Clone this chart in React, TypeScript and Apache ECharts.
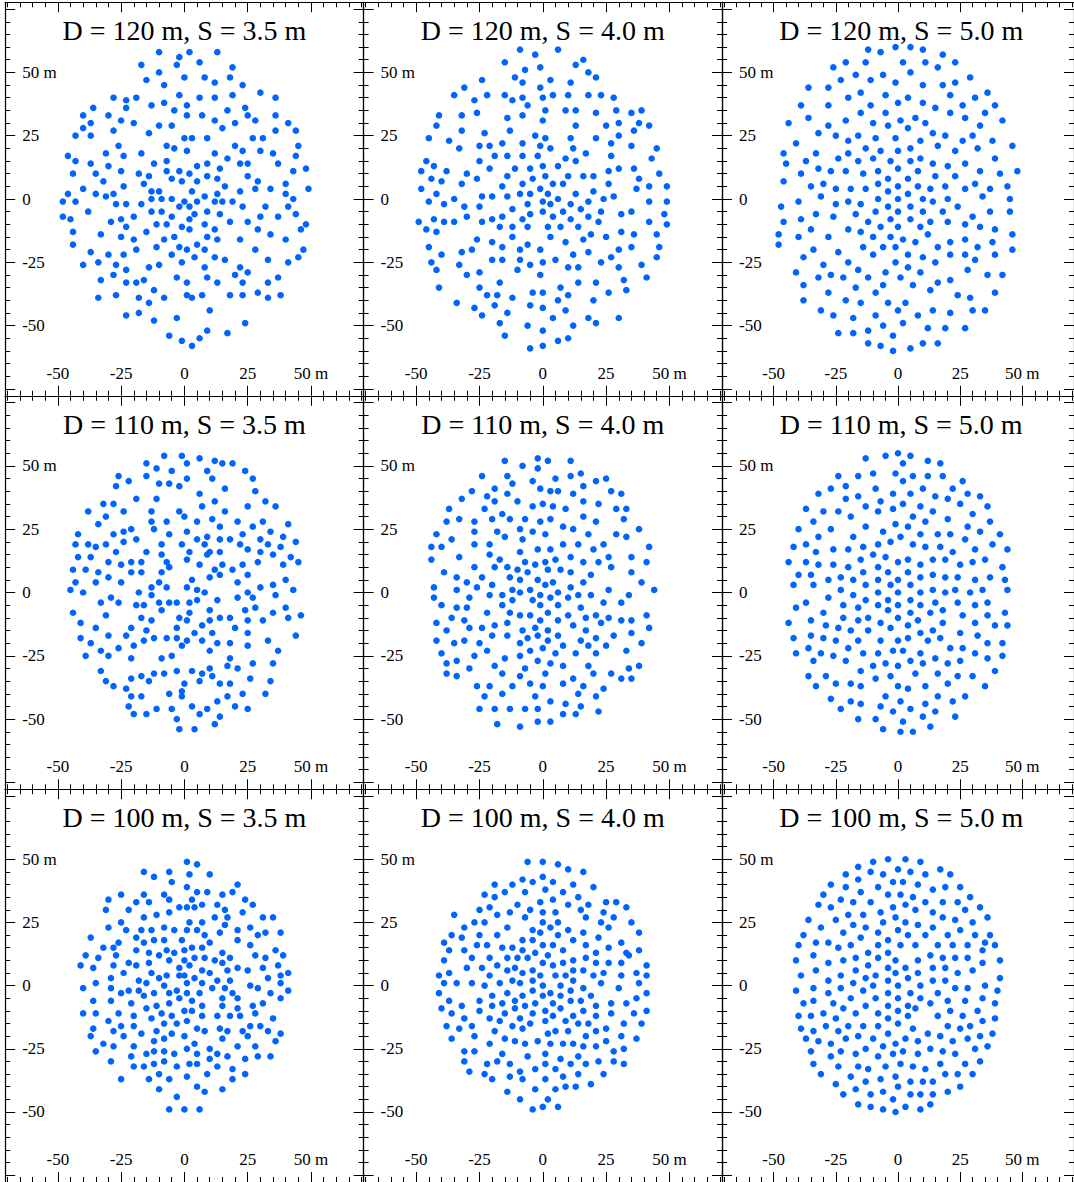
import React, { useEffect, useRef } from "react";
import * as echarts from "echarts";

const rowD = [120, 110, 100];
const colS = ["3.5", "4.0", "5.0"];
const labelVals = [-50, -25, 0, 25, 50];
const majorX = [-50, -25, 0, 25, 50];
const majorY = [-75, -50, -25, 0, 25, 50, 75];
const minorVals = [-70, -65, -60, -55, -45, -40, -35, -30, -20, -15, -10, -5, 5, 10, 15, 20, 30, 35, 40, 45, 55, 60, 65, 70];

const p120_35 = [[2,58],[13,58],[-10,58],[-2,56],[-17,53],[6,54],[19,52],[-3,53],[-10,50],[-15,47],[0,48],[8,48],[18,48],[12,46],[-8,45],[23,45],[30,42],[-28,40],[-23,39],[-19,40],[-2,41],[6,40],[12,40],[19,41],[36,40],[-8,38],[-36,36],[-23,36],[-13,37],[1,37],[24,36],[-40,33],[-30,33],[-4,35],[7,33],[17,35],[1,33],[-25,31],[-20,30],[12,31],[25,33],[28,31],[36,33],[41,30],[-40,28],[-37,30],[-10,29],[-5,29],[20,30],[15,28],[-28,27],[-43,25],[-37,25],[-14,26],[0,24],[3,24],[9,24],[27,24],[31,24],[36,27],[44,27],[-26,21],[-7,21],[-4,20],[1,19],[12,18],[20,21],[23,19],[30,19],[45,21],[-46,17],[-43,15],[-31,18],[-24,17],[-17,18],[17,16],[35,18],[44,17],[-37,14],[-30,13],[-12,14],[-7,15],[5,13],[9,14],[14,12],[22,14],[25,14],[37,14],[-44,10],[-35,10],[-25,11],[-18,10],[-14,9],[-7,11],[-2,11],[2,10],[9,9],[-5,8],[-1,7],[5,7],[13,8],[25,9],[29,7],[43,11],[48,12],[-32,7],[-24,5],[-16,6],[-10,3],[16,5],[40,6],[-40,4],[-46,2],[-35,2],[-31,1],[-28,2],[-13,3],[3,3],[8,1],[13,2],[22,3],[28,4],[34,4],[40,2],[49,4],[-48,-1],[-43,-1],[-27,-2],[-23,-2],[-17,-2],[-13,0],[-9,0],[-5,0],[0,-1],[5,-1],[12,-1],[15,-1],[19,-1],[43,0],[-38,-5],[-2,-3],[2,-3],[23,-3],[32,-3],[41,-3],[-20,-7],[-13,-5],[-9,-5],[4,-6],[9,-5],[14,-6],[-5,-7],[2,-8],[-48,-7],[-45,-8],[-29,-9],[-25,-8],[-23,-11],[-7,-10],[-1,-11],[2,-12],[8,-10],[12,-12],[18,-9],[25,-9],[30,-7],[37,-7],[44,-6],[48,-10],[46,-12],[-44,-13],[-15,-13],[-11,-10],[-33,-14],[-25,-15],[-20,-16],[-8,-16],[-4,-15],[9,-15],[13,-16],[22,-16],[29,-12],[34,-14],[40,-16],[-44,-18],[-37,-21],[-11,-19],[-19,-20],[-2,-19],[1,-20],[5,-18],[8,-20],[28,-20],[47,-20],[-30,-22],[-24,-22],[-5,-22],[4,-23],[12,-23],[16,-24],[-40,-26],[-34,-25],[-27,-26],[-14,-27],[-10,-26],[-1,-25],[22,-27],[33,-24],[41,-25],[45,-23],[-23,-28],[25,-29],[-28,-30],[-3,-31],[8,-27],[20,-30],[9,-31],[13,-33],[-33,-32],[-23,-33],[-19,-33],[-16,-32],[1,-33],[23,-33],[33,-33],[37,-31],[-34,-39],[-27,-38],[-18,-39],[-8,-39],[1,-38],[3,-39],[7,-38],[18,-38],[23,-38],[29,-37],[33,-39],[38,-38],[-12,-36],[-14,-41],[-23,-46],[-18,-45],[10,-44],[-12,-48],[-3,-47],[24,-49],[9,-52],[-6,-54],[17,-53],[-1,-56],[6,-55],[3,-58]];

const p120_40 = [[-9,59],[-3,57],[6,59],[-15,54],[13,53],[16,55],[-7,51],[-1,52],[18,50],[21,48],[-11,48],[3,47],[11,46],[-24,47],[-8,46],[-1,44],[-31,44],[-35,41],[-22,41],[-15,41],[-12,39],[-8,40],[0,40],[4,41],[10,41],[18,41],[23,41],[28,40],[-27,39],[-6,37],[-41,33],[-32,33],[-26,34],[-14,32],[-8,33],[1,35],[9,35],[13,35],[21,34],[29,35],[35,34],[39,35],[0,31],[-42,29],[13,29],[25,29],[30,30],[38,30],[42,29],[-32,27],[-13,27],[36,27],[-45,24],[-37,23],[-23,26],[-3,25],[1,24],[11,24],[21,24],[30,25],[-33,20],[-25,21],[-21,21],[-16,22],[-8,22],[-1,21],[3,20],[12,20],[27,22],[35,21],[45,20],[-19,17],[-14,17],[-8,17],[-2,17],[9,16],[17,18],[27,17],[43,16],[-46,15],[-25,15],[13,15],[-43,13],[-21,12],[-5,12],[0,13],[6,13],[30,12],[-48,11],[-38,11],[-30,10],[-11,12],[10,9],[26,11],[36,12],[46,10],[-44,8],[-40,7],[-32,6],[-26,8],[-14,9],[-4,8],[1,9],[16,9],[20,9],[38,8],[-16,5],[-8,6],[4,6],[8,6],[26,6],[42,5],[49,5],[-48,4],[-42,2],[-24,1],[-20,1],[-14,1],[-9,2],[-5,2],[-1,4],[2,2],[13,2],[20,3],[37,4],[-35,0],[6,0],[24,0],[28,1],[-45,-1],[-39,-2],[-31,-3],[-25,-3],[-6,-2],[0,-1],[3,-2],[11,-2],[18,-1],[42,-1],[49,-1],[-12,-4],[15,-4],[23,-5],[35,-5],[-30,-7],[-5,-6],[0,-5],[4,-7],[8,-5],[31,-6],[48,-6],[-43,-8],[-49,-9],[-39,-9],[-35,-9],[-24,-9],[-20,-8],[-16,-7],[-8,-8],[11,-8],[18,-7],[22,-9],[42,-9],[49,-10],[-46,-12],[-42,-13],[-17,-11],[-12,-11],[-6,-11],[2,-11],[7,-11],[14,-11],[31,-13],[36,-14],[-12,-15],[3,-15],[19,-14],[25,-15],[45,-14],[-26,-16],[-20,-17],[-6,-18],[9,-17],[16,-16],[-45,-19],[-28,-20],[-16,-19],[-9,-20],[-1,-20],[18,-21],[30,-20],[35,-19],[46,-19],[-40,-22],[-32,-21],[12,-22],[27,-23],[45,-23],[-20,-24],[-16,-24],[-9,-24],[5,-24],[-44,-25],[-33,-26],[-5,-26],[0,-25],[23,-25],[10,-27],[14,-27],[30,-27],[39,-26],[-42,-28],[-30,-30],[-25,-29],[-10,-28],[-1,-30],[41,-31],[-17,-33],[14,-33],[21,-33],[32,-32],[-41,-35],[-25,-35],[7,-35],[33,-36],[-22,-38],[-18,-38],[-4,-37],[0,-37],[10,-38],[26,-37],[-12,-39],[6,-40],[20,-40],[-34,-41],[-19,-42],[-5,-42],[0,-43],[9,-44],[-27,-43],[-14,-45],[-24,-46],[4,-47],[18,-47],[30,-47],[-17,-49],[-6,-50],[12,-50],[21,-49],[0,-52],[-15,-54],[10,-55],[6,-56],[0,-58],[-5,-59]];

const p120_50 = [[-12,59],[-7,58],[-1,60],[5,60],[10,59],[18,57],[-21,54],[-13,54],[2,54],[11,54],[23,54],[-26,52],[16,52],[-17,49],[-6,49],[5,50],[-23,47],[-11,47],[-1,46],[10,45],[18,45],[23,46],[29,48],[-36,44],[-28,44],[-15,42],[-5,41],[21,41],[36,42],[-20,40],[4,40],[31,40],[-39,37],[-28,37],[-11,37],[0,38],[10,38],[15,36],[26,37],[39,37],[-15,34],[-5,34],[21,34],[35,34],[-36,32],[-21,31],[-10,30],[1,31],[7,32],[11,30],[27,32],[42,31],[-44,30],[-28,29],[-4,29],[33,29],[4,28],[-32,26],[-25,25],[-16,25],[14,26],[19,25],[30,25],[-9,24],[-1,24],[-20,23],[9,23],[26,23],[38,23],[-41,22],[46,21],[-13,20],[-7,19],[0,19],[5,20],[16,21],[32,20],[-46,18],[-33,18],[23,19],[-20,18],[-37,15],[-24,16],[-16,15],[-10,16],[-3,15],[5,15],[9,16],[14,14],[20,13],[27,14],[39,16],[-45,14],[-39,10],[-32,12],[-27,11],[-21,11],[-14,10],[-8,11],[0,12],[8,11],[15,9],[23,9],[33,11],[41,10],[48,11],[-46,7],[-30,6],[-35,5],[-25,4],[-19,4],[-13,4],[-8,6],[-4,8],[0,5],[4,8],[8,5],[13,4],[19,5],[27,4],[31,6],[37,4],[44,5],[-47,-3],[-40,-1],[-31,1],[-25,-2],[-20,-1],[-15,-2],[-8,0],[-4,3],[0,0],[4,2],[10,0],[14,-1],[20,0],[24,-3],[34,1],[45,0],[-46,-9],[-39,-8],[-33,-6],[-26,-7],[-17,-6],[-9,-5],[-4,-3],[0,-5],[5,-3],[10,-5],[18,-5],[30,-7],[37,-5],[45,-5],[-48,-14],[-35,-12],[-20,-12],[-12,-9],[-7,-11],[-3,-8],[0,-11],[5,-8],[9,-11],[13,-9],[20,-9],[27,-10],[33,-11],[39,-12],[46,-14],[-48,-18],[-40,-15],[-28,-15],[-15,-13],[-10,-15],[-3,-15],[2,-16],[7,-17],[12,-14],[21,-17],[27,-16],[38,-17],[-34,-20],[-24,-21],[-14,-19],[-6,-19],[-1,-19],[4,-22],[16,-19],[21,-22],[27,-22],[32,-19],[39,-22],[46,-20],[-38,-23],[-10,-22],[-1,-25],[10,-23],[15,-25],[31,-24],[-41,-29],[-30,-26],[-20,-25],[-16,-28],[-5,-29],[4,-27],[9,-29],[28,-28],[42,-30],[36,-30],[-32,-31],[-27,-30],[-22,-31],[-12,-31],[1,-31],[16,-33],[21,-32],[-38,-34],[-17,-35],[-6,-34],[6,-34],[13,-36],[39,-37],[-9,-37],[-28,-37],[-21,-40],[-15,-41],[-4,-41],[3,-41],[24,-38],[29,-39],[-38,-40],[-31,-44],[-26,-46],[-9,-46],[0,-44],[8,-46],[14,-44],[21,-45],[30,-44],[35,-44],[-18,-47],[-6,-50],[2,-49],[12,-51],[19,-51],[27,-51],[-24,-53],[-18,-53],[-12,-52],[-2,-54],[-12,-57],[-7,-58],[-2,-60],[5,-59],[10,-57],[16,-57]];

const p110_35 = [[-8,54],[-1,54],[6,53],[12,52],[-15,51],[1,51],[15,51],[19,51],[-11,49],[9,48],[-5,48],[24,48],[-26,46],[-15,46],[27,45],[11,45],[1,45],[-22,44],[-10,43],[-6,43],[-27,42],[-2,42],[16,41],[28,40],[6,39],[-19,37],[-11,37],[12,36],[32,36],[-32,35],[-28,35],[7,34],[25,34],[36,34],[-38,32],[-24,32],[-13,32],[-2,32],[16,32],[-31,30],[0,30],[-13,28],[-7,28],[5,28],[11,29],[21,28],[31,28],[41,27],[-34,27],[14,26],[-21,25],[-12,25],[27,26],[-28,23],[-24,24],[1,24],[-6,23],[34,24],[-42,23],[23,23],[9,22],[5,21],[14,21],[18,21],[-19,21],[30,21],[-24,20],[39,22],[-31,19],[-43,19],[-38,19],[-35,18],[-9,19],[-1,19],[8,19],[22,19],[33,19],[44,20],[25,17],[38,18],[-27,16],[-15,16],[14,16],[10,16],[2,16],[-42,14],[-37,14],[-9,15],[9,15],[30,16],[35,15],[42,14],[-25,11],[-21,12],[-17,12],[-7,12],[1,13],[-30,12],[6,11],[12,9],[15,11],[19,9],[23,11],[29,12],[39,11],[45,12],[-44,9],[-39,9],[-34,8],[-30,6],[-21,8],[-17,8],[-9,8],[-6,10],[3,5],[10,6],[14,7],[25,7],[40,5],[-43,4],[-35,4],[-25,4],[-10,4],[-13,2],[-7,2],[1,2],[5,1],[8,0],[21,4],[30,2],[35,3],[25,0],[43,1],[-45,1],[-40,0],[-29,-2],[-33,-4],[-26,-4],[-18,0],[-13,-1],[-19,-5],[-16,-5],[-10,-4],[-6,-4],[-3,-4],[2,-4],[5,-3],[13,-3],[21,-2],[27,-2],[36,-1],[28,-6],[24,-7],[-9,-7],[10,-7],[40,-6],[-44,-8],[-31,-9],[-17,-10],[-13,-11],[-2,-10],[2,-8],[1,-11],[14,-10],[18,-10],[25,-11],[35,-8],[41,-10],[46,-9],[-41,-12],[7,-13],[10,-11],[31,-11],[-35,-14],[-21,-14],[-3,-14],[-15,-15],[4,-16],[11,-16],[20,-14],[25,-16],[-41,-18],[-30,-17],[-23,-17],[-12,-18],[-7,-18],[-3,-18],[1,-19],[7,-19],[44,-17],[-16,-19],[33,-19],[-37,-20],[-20,-21],[-1,-21],[13,-20],[18,-20],[25,-21],[-33,-23],[-26,-22],[10,-23],[37,-23],[-39,-25],[-30,-25],[-21,-26],[-9,-26],[-5,-25],[18,-26],[27,-28],[35,-28],[-33,-31],[-12,-32],[-3,-31],[3,-31],[10,-30],[17,-29],[21,-30],[-17,-33],[-8,-32],[7,-32],[11,-33],[-21,-34],[26,-34],[-31,-35],[-14,-35],[0,-36],[6,-35],[-28,-37],[14,-36],[18,-36],[34,-35],[-23,-38],[-1,-39],[-6,-40],[-21,-41],[-17,-41],[-1,-41],[17,-41],[23,-40],[32,-40],[13,-43],[-22,-45],[3,-45],[20,-45],[25,-46],[-5,-46],[-11,-46],[-15,-48],[9,-46],[-20,-48],[6,-48],[-3,-50],[14,-49],[12,-52],[-2,-54],[4,-54]];

const p110_40 = [[-2,53],[2,52],[-15,52],[-8,50],[-2,49],[11,52],[-24,46],[-14,46],[5,45],[15,47],[11,46],[21,44],[25,45],[-12,43],[-4,44],[-1,41],[16,42],[-28,40],[-19,41],[-14,39],[3,40],[6,40],[27,40],[31,39],[-32,37],[-22,38],[12,39],[16,36],[-19,36],[-10,36],[-4,34],[0,35],[4,34],[9,33],[22,35],[-37,33],[-23,33],[29,33],[33,33],[-16,31],[-38,28],[-33,29],[-27,28],[-20,29],[-13,29],[-7,29],[-1,28],[3,29],[16,30],[32,29],[21,28],[8,26],[-9,25],[-18,24],[-4,24],[1,23],[12,25],[38,25],[-42,23],[-36,21],[-27,24],[-15,22],[-8,21],[18,23],[29,23],[33,22],[-21,19],[-27,19],[8,19],[14,19],[-44,18],[-40,18],[-9,16],[-2,17],[3,17],[20,17],[42,18],[24,19],[-44,13],[-33,14],[-21,15],[-17,13],[-7,12],[-3,11],[1,12],[5,13],[11,14],[16,12],[22,12],[26,14],[35,14],[41,12],[-27,10],[-19,10],[-14,10],[-10,9],[-6,8],[2,9],[7,9],[11,8],[19,7],[27,10],[-39,8],[-34,6],[-24,6],[-13,6],[-9,5],[-2,5],[35,8],[-30,4],[-26,2],[-20,3],[39,4],[4,4],[1,3],[16,4],[-43,2],[-34,1],[-12,1],[-5,1],[11,2],[26,1],[44,1],[-43,-2],[-29,-2],[-21,-1],[-16,-1],[-9,0],[-1,-1],[6,0],[14,-1],[19,-1],[34,-1],[-12,-3],[-4,-3],[3,-2],[10,-2],[-40,-5],[-16,-5],[-1,-5],[6,-5],[24,-4],[31,-4],[-34,-6],[-30,-6],[15,-6],[-22,-8],[-13,-8],[-5,-9],[2,-8],[10,-9],[21,-9],[26,-10],[41,-9],[-36,-10],[-31,-11],[-14,-12],[-9,-9],[-1,-11],[6,-11],[17,-10],[31,-11],[35,-11],[-42,-12],[-19,-13],[-3,-14],[12,-13],[23,-12],[-29,-14],[-38,-15],[-8,-15],[2,-15],[17,-15],[35,-16],[42,-14],[-24,-14],[-20,-17],[-14,-17],[-6,-18],[-2,-17],[6,-17],[28,-17],[-42,-19],[-31,-19],[-35,-20],[-25,-20],[-9,-20],[2,-19],[8,-21],[15,-19],[21,-18],[25,-21],[39,-20],[18,-21],[-40,-24],[-22,-23],[-5,-23],[0,-22],[5,-24],[13,-24],[21,-24],[33,-23],[-27,-25],[-15,-26],[-9,-25],[-38,-28],[-34,-27],[-2,-27],[3,-28],[-19,-29],[-7,-30],[8,-29],[18,-29],[-29,-30],[34,-30],[38,-29],[-38,-32],[-16,-32],[1,-32],[20,-32],[27,-32],[-34,-33],[-9,-33],[12,-34],[31,-34],[35,-34],[-26,-37],[-21,-37],[-12,-37],[-5,-36],[0,-37],[8,-36],[16,-37],[24,-38],[-16,-40],[-3,-41],[14,-40],[-23,-41],[3,-43],[9,-44],[21,-41],[-25,-46],[-19,-46],[-13,-46],[-7,-46],[-2,-46],[15,-45],[8,-48],[13,-48],[22,-47],[-18,-52],[-2,-51],[3,-51],[-9,-53]];

const p110_50 = [[0,55],[5,54],[-5,54],[-13,53],[12,52],[17,51],[2,51],[-24,46],[-16,46],[-10,47],[-1,47],[6,46],[12,46],[18,46],[2,44],[26,44],[-27,41],[-21,42],[22,41],[-32,39],[-9,41],[-2,39],[5,39],[10,41],[28,39],[-16,38],[15,38],[33,38],[-21,37],[-7,36],[20,37],[-13,34],[2,35],[9,34],[25,35],[36,34],[-37,33],[-30,32],[-24,32],[-2,33],[-8,32],[14,32],[6,30],[-19,30],[30,31],[-34,28],[11,28],[20,29],[37,28],[-1,27],[-13,26],[4,26],[-40,25],[-27,25],[-6,24],[16,23],[28,26],[33,24],[21,23],[41,23],[-32,22],[-18,22],[9,23],[27,21],[-42,18],[-37,19],[-14,18],[-8,19],[-3,20],[1,22],[6,19],[11,18],[17,18],[-33,16],[-26,17],[-20,17],[22,16],[31,17],[38,19],[44,17],[-10,15],[-5,14],[4,13],[-15,13],[14,13],[19,13],[-44,12],[-37,12],[-32,11],[-26,11],[-20,10],[-8,10],[0,12],[9,11],[25,11],[30,12],[35,13],[42,10],[-40,7],[-35,7],[-14,8],[-4,8],[4,8],[14,7],[-28,5],[-23,6],[-18,5],[-8,5],[0,5],[9,6],[19,6],[24,6],[31,5],[37,6],[43,5],[-42,3],[-34,3],[-13,3],[-3,3],[5,3],[14,1],[23,1],[34,1],[-23,1],[-18,-1],[-8,0],[0,0],[9,0],[19,0],[29,0],[44,1],[-28,-2],[-22,-5],[-13,-3],[-4,-3],[5,-3],[-16,-6],[-8,-5],[0,-5],[9,-5],[15,-4],[24,-4],[31,-5],[36,-4],[-41,-6],[-37,-4],[-30,-8],[-22,-10],[-12,-10],[-4,-7],[5,-8],[18,-7],[26,-9],[36,-9],[43,-8],[-35,-11],[-16,-11],[-7,-12],[0,-10],[8,-11],[13,-8],[18,-12],[31,-12],[39,-13],[44,-13],[-44,-12],[-29,-13],[-24,-14],[-19,-15],[-12,-15],[-3,-14],[4,-13],[9,-16],[14,-15],[25,-16],[-42,-18],[-35,-17],[-30,-18],[-16,-19],[-7,-19],[0,-19],[4,-18],[12,-19],[17,-18],[32,-17],[-25,-19],[-36,-22],[-20,-22],[-14,-24],[-8,-24],[-2,-23],[2,-23],[9,-24],[15,-26],[21,-22],[26,-22],[36,-20],[42,-20],[-41,-24],[-31,-24],[-26,-25],[-21,-27],[-5,-28],[0,-29],[5,-27],[10,-28],[20,-28],[25,-27],[31,-24],[36,-26],[42,-25],[-34,-27],[-15,-31],[-10,-29],[7,-32],[16,-32],[24,-33],[30,-33],[39,-31],[-36,-33],[-29,-33],[-19,-36],[-9,-34],[-3,-33],[-25,-36],[-15,-37],[0,-37],[4,-38],[11,-37],[20,-36],[35,-37],[-33,-37],[16,-41],[-5,-41],[27,-41],[-27,-42],[-19,-43],[-15,-44],[-7,-45],[1,-43],[11,-44],[22,-43],[-23,-46],[-2,-47],[5,-46],[15,-47],[-16,-50],[-9,-50],[2,-51],[10,-49],[23,-49],[13,-53],[-6,-54],[1,-55],[6,-55]];

const p100_35 = [[1,49],[5,48],[-16,45],[-6,45],[2,44],[-12,43],[10,44],[-5,41],[1,39],[21,40],[5,37],[9,37],[-8,36],[15,36],[19,37],[-25,36],[-16,36],[-6,34],[-30,34],[-19,33],[-14,33],[3,34],[7,32],[13,32],[24,34],[27,32],[-31,30],[-22,30],[-2,31],[1,31],[4,31],[16,30],[23,29],[-6,29],[-11,28],[12,27],[31,27],[35,27],[-16,27],[17,27],[-25,25],[2,25],[7,25],[-23,22],[-30,23],[-17,22],[-13,22],[-8,23],[-4,22],[1,22],[5,22],[14,21],[16,24],[21,22],[26,23],[32,21],[38,21],[-37,19],[-19,19],[8,20],[29,20],[-26,17],[-16,17],[-12,18],[-8,18],[-1,18],[10,17],[21,18],[26,16],[-32,15],[-28,15],[-19,14],[-14,13],[-7,14],[3,15],[7,15],[15,13],[36,14],[-39,12],[-34,11],[-27,12],[-10,12],[-4,13],[0,14],[18,11],[28,12],[32,11],[39,12],[-41,8],[-36,7],[-28,8],[-22,9],[-19,8],[-14,9],[-6,10],[0,10],[4,11],[8,11],[12,10],[15,9],[-2,7],[2,8],[7,6],[17,6],[21,7],[25,6],[31,7],[37,8],[-24,5],[-13,5],[-7,4],[-2,4],[0,4],[4,3],[10,5],[13,2],[38,4],[41,5],[33,3],[-10,3],[-29,3],[-18,2],[-15,1],[-8,0],[1,1],[7,1],[18,2],[-35,1],[26,0],[-40,-1],[-29,-1],[-22,-2],[-18,-2],[-3,-2],[11,-1],[16,-1],[19,-3],[29,-1],[38,1],[41,-2],[-25,-3],[-16,-4],[-12,-3],[-6,-3],[1,-3],[6,-3],[15,-5],[21,-5],[34,-3],[38,-5],[-36,-6],[-29,-6],[-2,-5],[-21,-7],[-11,-8],[-6,-7],[3,-6],[7,-8],[15,-8],[21,-9],[27,-8],[31,-7],[-15,-9],[-40,-11],[-35,-11],[-26,-11],[-9,-11],[0,-10],[3,-10],[13,-12],[18,-12],[7,-12],[22,-12],[28,-11],[-20,-12],[35,-13],[-5,-12],[-30,-14],[-8,-15],[-3,-15],[1,-14],[-25,-16],[-20,-16],[-13,-13],[26,-16],[-36,-17],[-28,-18],[-11,-18],[5,-17],[8,-18],[14,-17],[17,-18],[23,-18],[30,-16],[33,-18],[-17,-19],[-5,-19],[0,-20],[25,-20],[-37,-20],[-24,-20],[-8,-21],[15,-21],[38,-19],[-12,-22],[4,-23],[-32,-23],[-28,-24],[-20,-24],[21,-24],[28,-24],[36,-22],[-35,-26],[-8,-26],[-4,-27],[1,-25],[5,-27],[10,-25],[13,-27],[17,-28],[-15,-27],[-12,-26],[-21,-28],[-29,-30],[-8,-30],[-12,-31],[-3,-32],[2,-31],[5,-31],[10,-29],[24,-29],[29,-28],[34,-28],[-20,-32],[-16,-32],[13,-32],[19,-33],[-10,-35],[-6,-37],[1,-36],[9,-35],[24,-35],[-25,-37],[-14,-37],[19,-37],[-10,-41],[5,-40],[8,-42],[15,-41],[-3,-44],[-6,-49],[0,-49],[6,-49]];

const p100_40 = [[-6,49],[0,49],[6,48],[10,46],[16,45],[0,43],[-19,40],[-12,40],[-8,42],[-4,41],[4,41],[12,40],[20,39],[1,38],[-15,37],[-7,37],[8,37],[-23,36],[-19,35],[14,35],[-1,33],[4,34],[18,32],[25,33],[29,33],[33,31],[-10,32],[-21,31],[10,32],[-25,30],[-13,29],[-5,30],[0,29],[5,29],[15,30],[24,29],[-35,28],[-18,28],[-7,27],[17,27],[28,27],[-31,23],[-27,25],[-23,25],[0,25],[6,25],[23,25],[26,23],[35,25],[-14,23],[-4,22],[3,23],[10,22],[16,21],[38,21],[-36,20],[-32,19],[-25,20],[-18,20],[-1,21],[6,20],[22,19],[-8,18],[-4,18],[12,18],[-39,17],[4,16],[31,17],[-37,14],[-31,14],[-26,16],[-22,16],[-16,15],[-12,15],[-8,14],[-3,13],[0,16],[2,12],[8,14],[17,16],[21,13],[26,15],[33,13],[38,14],[-39,10],[-28,11],[-21,11],[-14,11],[-10,11],[-6,11],[12,10],[17,11],[21,9],[26,9],[31,9],[34,12],[-30,7],[-24,7],[-18,8],[-11,7],[-4,6],[0,9],[4,8],[8,9],[12,6],[16,6],[24,5],[41,8],[-41,4],[-37,5],[-21,4],[-14,6],[-8,5],[-1,4],[5,4],[9,4],[20,4],[31,4],[37,5],[41,4],[-39,1],[-34,1],[-28,1],[-23,0],[-17,1],[-12,2],[-9,1],[-4,2],[0,0],[7,0],[12,2],[23,1],[30,-1],[38,1],[-41,-3],[-37,-6],[-20,-4],[-14,-3],[-8,-4],[-4,-2],[0,-4],[3,-3],[7,-4],[11,-2],[16,-1],[19,-4],[37,-5],[41,-3],[-32,-8],[-25,-6],[-20,-8],[-16,-7],[-11,-6],[-7,-8],[-3,-7],[4,-7],[7,-9],[11,-6],[15,-6],[21,-8],[27,-7],[33,-7],[-40,-9],[-36,-11],[-25,-10],[-15,-11],[-11,-9],[-4,-11],[1,-10],[4,-12],[12,-12],[16,-10],[27,-11],[36,-11],[41,-10],[-31,-13],[-21,-13],[-17,-14],[-12,-16],[-9,-13],[-5,-15],[1,-14],[9,-14],[14,-15],[18,-15],[21,-12],[-38,-16],[-33,-17],[-28,-16],[-8,-17],[2,-19],[5,-18],[10,-18],[17,-20],[21,-18],[25,-17],[32,-15],[39,-15],[-27,-20],[-19,-18],[-36,-21],[-15,-21],[-11,-22],[-7,-23],[-2,-22],[3,-23],[8,-23],[12,-23],[16,-24],[21,-24],[25,-22],[31,-20],[37,-21],[-21,-23],[-31,-26],[-27,-26],[-16,-27],[-6,-28],[1,-27],[7,-29],[14,-28],[28,-26],[32,-25],[-31,-30],[-22,-31],[-18,-30],[-13,-31],[1,-31],[11,-31],[17,-31],[22,-30],[28,-30],[32,-31],[-29,-34],[-3,-33],[5,-33],[-23,-35],[-13,-36],[-9,-34],[1,-37],[8,-36],[14,-35],[24,-35],[-20,-37],[-8,-37],[19,-39],[-3,-41],[5,-41],[9,-40],[13,-40],[-14,-42],[-9,-45],[2,-45],[-4,-49],[0,-48],[6,-48]];

const p100_50 = [[-10,49],[-4,50],[3,50],[9,49],[-16,47],[0,46],[17,46],[-11,45],[-6,44],[5,45],[-21,44],[-16,42],[11,44],[21,44],[-2,41],[2,41],[8,40],[-27,40],[-21,39],[-8,39],[19,39],[25,39],[14,38],[-30,36],[-15,37],[-4,36],[1,36],[6,35],[29,35],[-23,34],[-18,33],[-11,33],[11,33],[18,33],[24,33],[-32,32],[-27,31],[-2,31],[3,32],[33,31],[-7,29],[7,30],[14,29],[27,30],[-20,28],[-14,28],[-6,25],[-1,27],[3,25],[18,27],[23,26],[36,27],[-36,26],[-25,26],[-18,24],[-13,23],[8,24],[14,23],[30,25],[-31,23],[-22,21],[-8,21],[0,22],[4,20],[11,20],[20,20],[25,22],[31,20],[37,20],[-38,20],[-15,19],[-4,18],[-33,17],[-28,17],[-19,16],[-8,16],[1,16],[7,16],[16,16],[22,16],[28,16],[35,17],[-40,16],[39,16],[-24,15],[-4,13],[13,12],[-34,12],[-12,13],[-17,11],[-8,11],[-1,10],[8,10],[18,11],[23,11],[28,11],[34,14],[41,10],[-41,10],[-28,9],[-22,10],[-12,8],[3,7],[8,5],[14,7],[19,7],[24,5],[30,6],[34,9],[-39,4],[-33,6],[-23,4],[-17,6],[-9,4],[-4,7],[-1,5],[4,3],[-28,2],[-13,3],[-4,2],[0,0],[9,0],[14,2],[19,2],[23,-1],[28,-1],[35,0],[41,3],[-18,1],[-10,0],[-34,-1],[-23,-1],[-41,-2],[-28,-3],[-14,-2],[-4,-3],[5,-3],[16,-3],[40,-2],[-34,-6],[-19,-5],[-9,-5],[0,-5],[9,-5],[20,-6],[27,-6],[34,-5],[-38,-7],[-26,-7],[-13,-8],[-4,-8],[4,-8],[13,-7],[39,-7],[-22,-9],[-8,-11],[0,-10],[7,-9],[21,-10],[32,-10],[-40,-12],[-35,-12],[-30,-11],[-25,-13],[-17,-11],[-4,-13],[4,-12],[16,-12],[26,-12],[39,-13],[-39,-17],[-29,-16],[-20,-16],[-14,-16],[-8,-16],[0,-15],[6,-17],[20,-16],[25,-17],[29,-16],[34,-14],[-34,-18],[-24,-18],[-4,-19],[12,-19],[17,-20],[33,-20],[38,-19],[-37,-21],[-32,-22],[-21,-21],[-16,-20],[-10,-21],[-6,-24],[-1,-23],[3,-21],[8,-22],[22,-22],[28,-21],[-27,-23],[31,-25],[36,-24],[-35,-26],[-23,-26],[-17,-27],[-13,-25],[2,-26],[13,-25],[18,-26],[23,-27],[-27,-28],[-8,-28],[-2,-27],[8,-27],[17,-31],[27,-31],[33,-30],[-34,-31],[-24,-32],[-16,-32],[-5,-32],[1,-31],[6,-32],[11,-33],[-12,-33],[-31,-35],[-19,-36],[-13,-38],[-7,-37],[-1,-36],[5,-38],[10,-38],[14,-38],[19,-35],[24,-35],[30,-35],[-25,-39],[-17,-41],[0,-40],[25,-40],[-22,-43],[-11,-43],[-6,-42],[5,-43],[9,-43],[14,-43],[20,-42],[-2,-45],[-16,-47],[-11,-48],[-6,-49],[-1,-50],[3,-48],[9,-49],[13,-47]];

const panelData = [
  [p120_35, p120_40, p120_50],
  [p110_35, p110_40, p110_50],
  [p100_35, p100_40, p100_50],
];

const W = 1074;
const H = 1182;
const CELL_W = 358.4;
const CELL_H = 393.5;
const LEFT0 = 5.2;
const TOP0 = 2.25;
const PX_PER_M = 2.532;
const XR = CELL_W / 2 / PX_PER_M;
const YR = CELL_H / 2 / PX_PER_M;
const FONT = '"Liberation Serif", "Times New Roman", serif';
const DOT = "#0064ff";

function buildOption() {
  const grid: any[] = [];
  const xAxis: any[] = [];
  const yAxis: any[] = [];
  const series: any[] = [];
  const graphic: any[] = [];
  const lineStyle = { color: "#000", width: 1 };
  const fmt = (v: number) => (v === 50 ? "50 m" : String(v));

  for (let r = 0; r < 3; r++) {
    for (let c = 0; c < 3; c++) {
      const i = r * 3 + c;
      const left = LEFT0 + c * CELL_W;
      const top = TOP0 + r * CELL_H;
      grid.push({ left, top, width: CELL_W, height: CELL_H, containLabel: false });

      const baseX = { gridIndex: i, type: "value", min: -XR, max: XR, splitLine: { show: false } };
      const baseY = { gridIndex: i, type: "value", min: -YR, max: YR, splitLine: { show: false } };

      xAxis.push({
        ...baseX,
        position: "bottom",
        axisLine: { show: true, onZero: false, lineStyle: { color: "#000", width: 1.2 } },
        axisTick: { show: true, inside: true, length: 10, customValues: majorX, lineStyle },
        axisLabel: {
          show: true, inside: true, margin: 14, customValues: labelVals, formatter: fmt,
          fontFamily: FONT, fontSize: 17, color: "#000",
        },
      });
      xAxis.push({
        ...baseX,
        position: "bottom",
        axisLine: { show: false, onZero: false },
        axisTick: { show: true, inside: true, length: 5, customValues: minorVals, lineStyle },
        axisLabel: { show: false },
      });
      xAxis.push({
        ...baseX,
        position: "top",
        axisLine: { show: true, onZero: false, lineStyle: { color: "#000", width: 1.2 } },
        axisTick: { show: true, inside: true, length: 10, customValues: majorX, lineStyle },
        axisLabel: { show: false },
      });
      xAxis.push({
        ...baseX,
        position: "top",
        axisLine: { show: false, onZero: false },
        axisTick: { show: true, inside: true, length: 5, customValues: minorVals, lineStyle },
        axisLabel: { show: false },
      });

      yAxis.push({
        ...baseY,
        position: "left",
        axisLine: { show: true, onZero: false, lineStyle: { color: "#000", width: 1.2 } },
        axisTick: { show: true, inside: true, length: 10, customValues: majorY, lineStyle },
        axisLabel: {
          show: true, inside: true, margin: 17, customValues: labelVals, formatter: fmt,
          fontFamily: FONT, fontSize: 17, color: "#000",
        },
      });
      yAxis.push({
        ...baseY,
        position: "left",
        axisLine: { show: false, onZero: false },
        axisTick: { show: true, inside: true, length: 5, customValues: minorVals, lineStyle },
        axisLabel: { show: false },
      });
      yAxis.push({
        ...baseY,
        position: "right",
        axisLine: { show: true, onZero: false, lineStyle: { color: "#000", width: 1.2 } },
        axisTick: { show: true, inside: true, length: 10, customValues: majorY, lineStyle },
        axisLabel: { show: false },
      });
      yAxis.push({
        ...baseY,
        position: "right",
        axisLine: { show: false, onZero: false },
        axisTick: { show: true, inside: true, length: 5, customValues: minorVals, lineStyle },
        axisLabel: { show: false },
      });

      series.push({
        type: "scatter",
        xAxisIndex: i * 4,
        yAxisIndex: i * 4,
        data: panelData[r][c],
        symbol: "circle",
        symbolSize: 6.6,
        itemStyle: { color: DOT, opacity: 1 },
        silent: true,
      });

      graphic.push({
        type: "text",
        x: left + CELL_W / 2,
        y: top + 28.7,
        style: {
          text: `D = ${rowD[r]} m, S = ${colS[c]} m`,
          font: `28px ${FONT}`,
          fill: "#000",
          textAlign: "center",
          textVerticalAlign: "middle",
        },
      });
    }
  }

  return {
    animation: false,
    backgroundColor: "#fff",
    grid,
    xAxis,
    yAxis,
    series,
    graphic,
  };
}

export default function App() {
  const ref = useRef<HTMLDivElement>(null);
  useEffect(() => {
    if (!ref.current) return;
    const chart = echarts.init(ref.current, undefined, { renderer: "svg" });
    chart.setOption(buildOption() as any);
    return () => chart.dispose();
  }, []);
  return (
    <div
      ref={ref}
      style={{ position: "absolute", left: 0, top: 0, width: W, height: H, background: "#fff" }}
    />
  );
}
